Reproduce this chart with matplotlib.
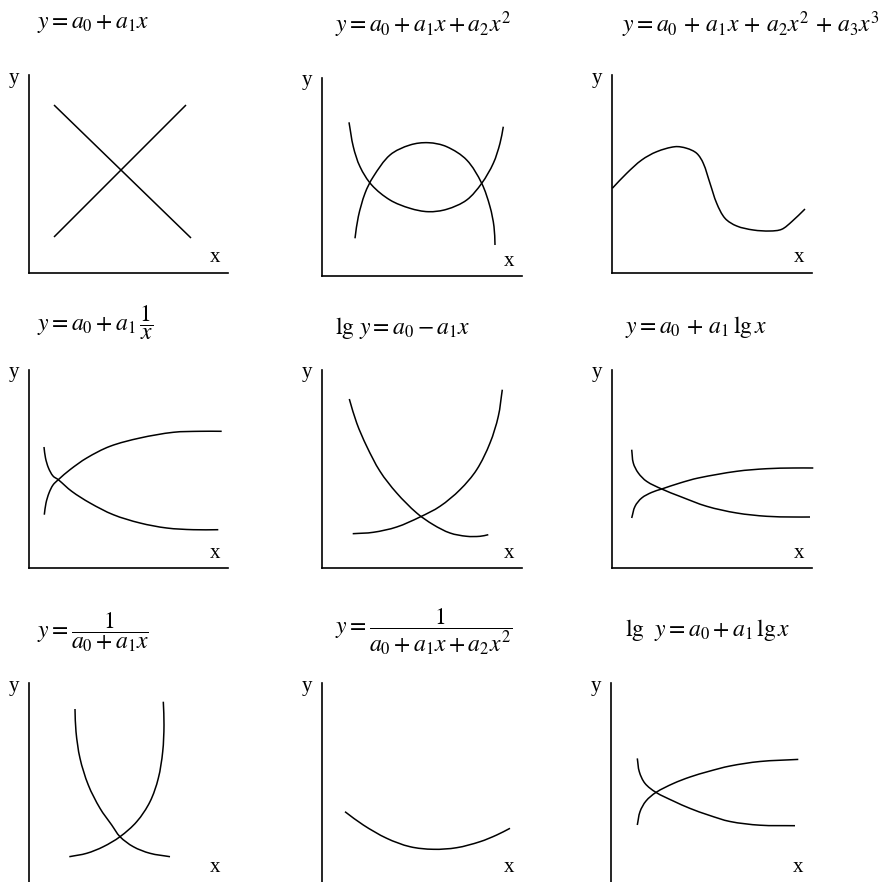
import numpy as np
import matplotlib
matplotlib.use('Agg')
import matplotlib.pyplot as plt
from matplotlib.path import Path
from matplotlib.patches import PathPatch

plt.rcParams['font.family'] = ['Liberation Serif', 'DejaVu Serif']
plt.rcParams['mathtext.fontset'] = 'stix'

W, H = 890, 882

# formulas shown above each small sketch (row by row)
titles = [
    r'$y = a_0 + a_1 x$',
    r'$y = a_0 + a_1 x + a_2 x^2$',
    r'$y = a_0 \,+\, a_1 x \,+\, a_2 x^2 \,+\, a_3 x^3$',
    r'$y = a_0 + a_1\,\dfrac{1}{x}$',
    r'$\mathrm{lg}\ y = a_0 - a_1 x$',
    r'$y = a_0 \,+\, a_1\,\mathrm{lg}\,x$',
    r'$y = \dfrac{1}{a_0 + a_1 x}$',
    r'$y = \dfrac{1}{a_0 + a_1 x + a_2 x^2}$',
    r'$\mathrm{lg}\ \ y = a_0 + a_1\,\mathrm{lg}\,x$',
]

p1_a_x = [25, 162]
p1_a_y = [168, 35]
p1_b_x = [25, 157]
p1_b_y = [36, 168]

p2_a_x = [27, 31.3, 38, 49.7, 68, 88, 106.3, 124.7, 144.7, 159.7, 171.3, 178, 181.3]
p2_a_y = [153.7, 129.3, 109.3, 91, 76, 67.7, 64.3, 66.7, 76, 92.7, 112.7, 132.7, 149.3]
p2_b_x = [33, 36.3, 43, 51.3, 68, 88, 106.3, 124.7, 144.7, 159.7, 168, 172, 173]
p2_b_y = [37.7, 59.3, 82.7, 99.3, 121, 131, 133.3, 129.3, 116, 92.7, 69.3, 49.3, 31]

p3_x = [0.3, 14.7, 29.7, 44.7, 63, 74.7, 84.7, 91.3, 98, 104.7, 113, 124.7, 141.3, 158, 169.7, 179.7, 193]
p3_y = [84.7, 99.7, 113, 121.3, 126.3, 124.7, 119.7, 109.7, 89.7, 69.7, 54.7, 47, 43, 42, 43.7, 51.3, 64]

p4_a_x = [15.3, 17, 20, 24, 29.3, 41, 57.7, 81, 111, 144.3, 171, 192.7]
p4_a_y = [53.3, 65, 75, 83, 88.3, 98.3, 110, 121.7, 130, 135.7, 136.7, 136.7]
p4_b_x = [15, 16.5, 19.5, 24, 29.3, 42.7, 61, 84.3, 111, 137.7, 164.3, 189.3]
p4_b_y = [121, 110, 100, 92, 88.3, 76.7, 65, 53.3, 45, 40, 38.3, 38.3]

p5_a_x = [27.3, 34.7, 44.7, 58, 74.7, 94.7, 111.3, 128, 144.7, 158, 166.3]
p5_a_y = [169, 145, 121.7, 96.7, 75, 55, 43.3, 35, 31.7, 31.7, 33.3]
p5_b_x = [30.7, 51.3, 74.7, 98, 118, 138, 154.7, 168, 176.3, 180.3]
p5_b_y = [34.3, 35.7, 41, 51, 61.7, 78.3, 98.3, 125, 151.7, 178.3]

p6_a_x = [19.7, 21.3, 26.3, 34.7, 49.7, 68, 94.7, 124.7, 154.7, 181.3, 198]
p6_a_y = [118.3, 105, 95, 86.6, 79, 71.6, 61.7, 55, 51.7, 51, 51]
p6_b_x = [19.7, 23, 29.7, 39.7, 49.7, 68, 86.3, 124.7, 154.7, 181.3, 201.3]
p6_b_y = [50, 61.6, 70, 75.6, 79, 85, 90, 96.7, 99.3, 100, 100]

p7_a_x = [46, 47, 51, 59.3, 71, 82.7, 91, 104.3, 121, 141]
p7_a_y = [174, 151.3, 124.7, 98, 74.7, 58, 46.3, 36.3, 29.7, 26.3]
p7_b_x = [40.3, 57.7, 74.3, 91, 107.7, 121, 129.3, 133.7, 135, 134.3]
p7_b_y = [26.3, 29.7, 36.3, 46.3, 61.3, 81.3, 104.7, 131.3, 158, 181.3]

p8_x = [23, 41.3, 64.7, 88, 111.3, 134.7, 158, 174.7, 188]
p8_y = [71.3, 58, 44.7, 36.3, 33.7, 35.3, 41.3, 48, 54.7]

p9_a_x = [26.3, 28.3, 34, 45, 62.3, 79, 97.3, 119, 149, 184]
p9_a_y = [124.6, 111.3, 99.6, 90.6, 82, 74.6, 68, 61.5, 57.8, 57.3]
p9_b_x = [26.3, 29, 35, 45, 62.3, 79, 97.3, 119, 149, 187.3]
p9_b_y = [58, 71.3, 82, 90.6, 99.5, 106, 111.5, 117, 121.5, 123.6]

curves = [
    [(p1_a_x, p1_a_y), (p1_b_x, p1_b_y)],
    [(p2_a_x, p2_a_y), (p2_b_x, p2_b_y)],
    [(p3_x, p3_y)],
    [(p4_a_x, p4_a_y), (p4_b_x, p4_b_y)],
    [(p5_a_x, p5_a_y), (p5_b_x, p5_b_y)],
    [(p6_a_x, p6_a_y), (p6_b_x, p6_b_y)],
    [(p7_a_x, p7_a_y), (p7_b_x, p7_b_y)],
    [(p8_x, p8_y)],
    [(p9_a_x, p9_a_y), (p9_b_x, p9_b_y)],
]

# axes boxes in pixels: left, top, width, height
boxes = [
    (29, 75, 199, 198), (322, 78, 200, 198), (612, 75, 200, 198),
    (29, 370, 199, 198), (322, 370, 200, 198), (612, 370, 200, 198),
    (29, 683, 199, 200), (322, 683, 200, 200), (611, 683, 200, 200),
]
# where each formula starts (left x, centre y)
title_pos = [
    (37, 24), (335, 25), (622, 25),
    (37, 323), (335, 328), (625, 327),
    (37, 632), (335, 632), (625, 630),
]


def smooth_path(xs, ys):
    # bezier segments through the read points, handles scaled by chord length
    pts = np.column_stack([xs, ys]).astype(float)
    n = len(pts)
    if n < 3:
        return Path(pts)
    d = np.hypot(*np.diff(pts, axis=0).T)
    tang = np.zeros_like(pts)
    tang[0] = (pts[1] - pts[0]) / d[0]
    tang[-1] = (pts[-1] - pts[-2]) / d[-1]
    for i in range(1, n - 1):
        tang[i] = (pts[i + 1] - pts[i - 1]) / (d[i - 1] + d[i])
    verts = [pts[0]]
    codes = [Path.MOVETO]
    for i in range(n - 1):
        c1 = pts[i] + tang[i] * d[i] / 3.0
        c2 = pts[i + 1] - tang[i + 1] * d[i] / 3.0
        verts += [c1, c2, pts[i + 1]]
        codes += [Path.CURVE4] * 3
    return Path(verts, codes)


fig = plt.figure(figsize=(W / 100, H / 100), dpi=100)

for i in range(9):
    l, t, w, h = boxes[i]
    ax = fig.add_axes([l / W, 1 - (t + h) / H, w / W, h / H])
    ax.set_xlim(0, w)
    ax.set_ylim(0, h)
    for s in ['top', 'right']:
        ax.spines[s].set_visible(False)
    for s in ['left', 'bottom']:
        ax.spines[s].set_linewidth(1.2)
    ax.set_xticks([])
    ax.set_yticks([])
    ax.patch.set_alpha(0)
    for cx, cy in curves[i]:
        patch = PathPatch(smooth_path(cx, cy), facecolor='none', edgecolor='black',
                          lw=1.1, clip_on=False, capstyle='butt')
        ax.add_patch(patch)
    ax.text(-15, h - 3, 'y', fontsize=15, ha='center', va='center')
    ax.text(w - 13, 15, 'x', fontsize=15, ha='center', va='center')

    tx, ty = title_pos[i]
    fig.text(tx / W, 1 - ty / H, titles[i], fontsize=17, ha='left', va='center')

fig.savefig('out.png', dpi=100)
